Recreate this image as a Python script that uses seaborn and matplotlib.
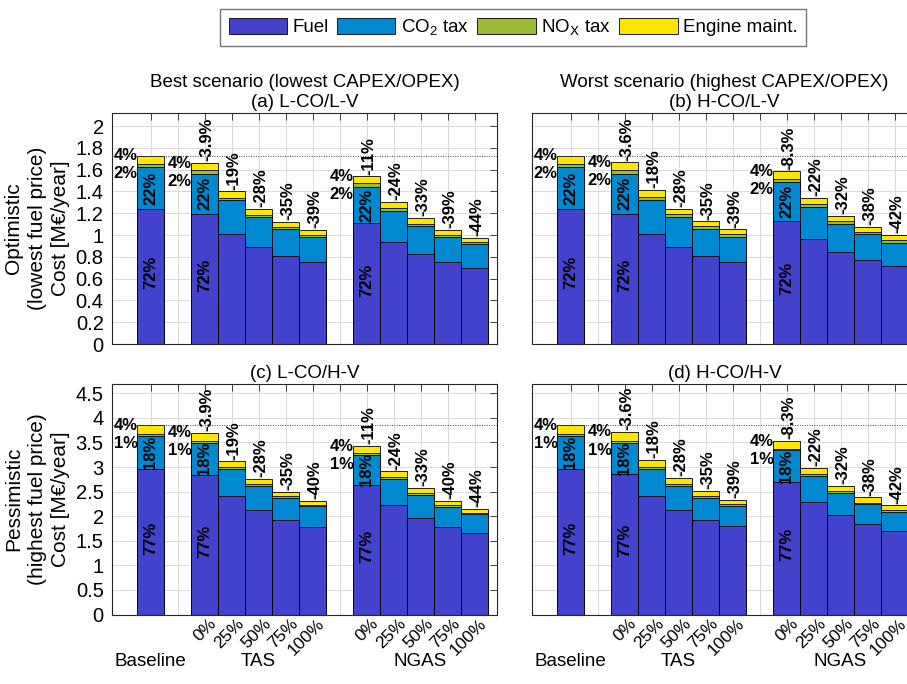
import numpy as np
import pandas as pd
import matplotlib
matplotlib.use("Agg")
import matplotlib.pyplot as plt
import seaborn as sns
from matplotlib.patches import Patch
from matplotlib.transforms import blended_transform_factory, offset_copy, ScaledTranslation

# ---------------- data ----------------
categories = ["Baseline", "gap1", "TAS 0%", "TAS 25%", "TAS 50%", "TAS 75%", "TAS 100%",
              "gap2", "NGAS 0%", "NGAS 25%", "NGAS 50%", "NGAS 75%", "NGAS 100%"]
bars = ["Baseline", "TAS 0%", "TAS 25%", "TAS 50%", "TAS 75%", "TAS 100%",
        "NGAS 0%", "NGAS 25%", "NGAS 50%", "NGAS 75%", "NGAS 100%"]
tick_labels = ["", "", "0%", "25%", "50%", "75%", "100%", "", "0%", "25%", "50%", "75%", "100%"]
group_labels = ["Baseline", "TAS", "NGAS"]
group_pos = [0, 4, 10]

# (a) L-CO/L-V
fuel_a = [1.243, 1.197, 1.009, 0.891, 0.806, 0.752, 1.106, 0.936, 0.824, 0.752, 0.697]
co2_a = [0.377, 0.363, 0.309, 0.270, 0.246, 0.227, 0.339, 0.288, 0.258, 0.227, 0.218]
nox_a = [0.035, 0.033, 0.026, 0.024, 0.021, 0.020, 0.031, 0.027, 0.022, 0.020, 0.020]
maint_a = [0.072, 0.067, 0.056, 0.055, 0.049, 0.046, 0.062, 0.055, 0.051, 0.046, 0.035]
chg_a = ["-3.9%", "-19%", "-28%", "-35%", "-39%", "-11%", "-24%", "-33%", "-39%", "-44%"]
# (b) H-CO/L-V
fuel_b = [1.243, 1.197, 1.012, 0.891, 0.809, 0.752, 1.133, 0.961, 0.845, 0.767, 0.715]
co2_b = [0.377, 0.363, 0.312, 0.276, 0.249, 0.233, 0.352, 0.297, 0.258, 0.239, 0.215]
nox_b = [0.035, 0.033, 0.026, 0.024, 0.021, 0.020, 0.032, 0.027, 0.023, 0.021, 0.020]
maint_b = [0.072, 0.073, 0.062, 0.052, 0.046, 0.047, 0.067, 0.058, 0.049, 0.045, 0.050]
chg_b = ["-3.6%", "-18%", "-28%", "-35%", "-39%", "-8.3%", "-22%", "-32%", "-38%", "-42%"]
# (c) L-CO/H-V
fuel_c = [2.958, 2.841, 2.413, 2.122, 1.919, 1.782, 2.638, 2.238, 1.966, 1.782, 1.667]
co2_c = [0.678, 0.656, 0.556, 0.495, 0.461, 0.428, 0.611, 0.522, 0.468, 0.414, 0.381]
nox_c = [0.040, 0.039, 0.033, 0.031, 0.027, 0.026, 0.036, 0.031, 0.028, 0.026, 0.025]
maint_c = [0.171, 0.167, 0.114, 0.109, 0.088, 0.079, 0.141, 0.120, 0.105, 0.093, 0.078]
chg_c = ["-3.9%", "-19%", "-28%", "-35%", "-40%", "-11%", "-24%", "-33%", "-40%", "-44%"]
# (d) H-CO/H-V
fuel_d = [2.958, 2.855, 2.413, 2.122, 1.919, 1.796, 2.706, 2.285, 2.021, 1.837, 1.701]
co2_d = [0.678, 0.643, 0.556, 0.495, 0.461, 0.420, 0.632, 0.536, 0.461, 0.413, 0.393]
nox_d = [0.040, 0.039, 0.033, 0.031, 0.027, 0.026, 0.037, 0.032, 0.029, 0.026, 0.025]
maint_d = [0.171, 0.177, 0.145, 0.124, 0.099, 0.094, 0.154, 0.131, 0.108, 0.105, 0.099]
chg_d = ["-3.6%", "-18%", "-28%", "-35%", "-39%", "-8.3%", "-22%", "-32%", "-38%", "-42%"]

shares_top = ["72%", "22%", "2%", "4%"]
shares_bot = ["77%", "18%", "1%", "4%"]
share_bars = ["Baseline", "TAS 0%", "NGAS 0%"]

panel_titles = ["Best scenario (lowest CAPEX/OPEX)\n(a) L-CO/L-V",
                "Worst scenario (highest CAPEX/OPEX)\n(b) H-CO/L-V",
                "(c) L-CO/H-V", "(d) H-CO/H-V"]
row_labels = ["Optimistic\n(lowest fuel price)\nCost [M\u20ac/year]",
              "Pessimistic\n(highest fuel price)\nCost [M\u20ac/year]"]
series_names = ["Fuel", "CO$_2$ tax", "NO$_\\mathrm{X}$ tax", "Engine maint."]
colors = ["#4242cc", "#0088d0", "#9bbb34", "#ffe600"]

# ---------------- style ----------------
sns.set_theme(style="white")
plt.rcParams["font.family"] = ["Liberation Sans", "DejaVu Sans"]
plt.rcParams["mathtext.default"] = "regular"
plt.rcParams["text.color"] = "black"
plt.rcParams["axes.labelcolor"] = "black"
plt.rcParams["xtick.color"] = "black"
plt.rcParams["ytick.color"] = "black"
plt.rcParams["axes.titlecolor"] = "black"

fig = plt.figure(figsize=(9.07, 6.84), dpi=100)
W, H = 907.0, 684.0
def axpos(l, t, r, b):
    return [l / W, 1 - b / H, (r - l) / W, (b - t) / H]

positions = [axpos(112, 113, 497, 344), axpos(532, 113, 917, 344),
             axpos(112, 383.5, 497, 614.5), axpos(532, 383.5, 917, 614.5)]
panels = [(fuel_a, co2_a, nox_a, maint_a, chg_a, 2.12),
          (fuel_b, co2_b, nox_b, maint_b, chg_b, 2.12),
          (fuel_c, co2_c, nox_c, maint_c, chg_c, 4.70),
          (fuel_d, co2_d, nox_d, maint_d, chg_d, 4.70)]

for i, (pos, (fuel, co2, nox, maint, chg, ytop)) in enumerate(zip(positions, panels)):
    ax = fig.add_axes(pos)
    df = pd.DataFrame({"cat": bars, "fuel": fuel, "co2": co2, "nox": nox, "maint": maint})
    df["l1"] = df["fuel"]
    df["l2"] = df["l1"] + df["co2"]
    df["l3"] = df["l2"] + df["nox"]
    df["l4"] = df["l3"] + df["maint"]
    for col, c in zip(["l4", "l3", "l2", "l1"], colors[::-1]):
        sns.barplot(data=df, x="cat", y=col, order=categories, color=c, width=1.0,
                    edgecolor="black", linewidth=0.6, saturation=1, ax=ax, zorder=2)
    ax.set_xlim(-1.43, 12.83)
    ax.set_ylim(0, ytop)
    ax.set_xlabel("")
    ax.set_ylabel("")
    ax.set_xticks(range(len(categories)))
    ax.grid(True, color="#dcdcdc", linewidth=0.8, zorder=0)
    ax.set_axisbelow(True)
    ax.tick_params(direction="in", top=True, right=True, length=5, width=0.6,
                   color="#262626", labelsize=14.5, pad=6)
    base_total = df["l4"].iloc[0]
    ax.axhline(base_total, color="#444444", linestyle=(0, (1, 1.5)), linewidth=0.7, zorder=3)

    shares = shares_top if i < 2 else shares_bot
    xpos = {c: k for k, c in enumerate(categories)}
    # change labels
    for k, (cat, lab) in enumerate(zip(bars[1:], chg)):
        r = df.iloc[k + 1]
        ax.text(xpos[cat] + 0.08, r["l4"] + ytop * 0.008, lab, rotation=90, ha="center",
                va="bottom", fontsize=12, fontweight="bold", zorder=4)
    # share labels
    for cat in share_bars:
        r = df[df["cat"] == cat].iloc[0]
        x = xpos[cat]
        ax.text(x, r["l1"] / 2 + ytop * 0.015, shares[0], rotation=90, ha="center", va="center",
                fontsize=12, fontweight="bold", zorder=4)
        ax.text(x, (r["l1"] + r["l2"]) / 2, shares[1], rotation=90, ha="center", va="center",
                fontsize=12, fontweight="bold", zorder=4)
        ax.text(x - 0.48, r["l4"], shares[3], ha="right", va="center",
                fontsize=12, fontweight="bold", zorder=4)
        tr = offset_copy(ax.transData, fig=fig, x=0, y=-13, units="points")
        ax.text(x - 0.48, r["l4"], shares[2], ha="right", va="center", transform=tr,
                fontsize=12, fontweight="bold", zorder=4)

    if i % 2 == 0:
        ax.set_yticks(np.arange(0, ytop + 0.001, 0.2 if i == 0 else 0.5))
        ax.set_yticklabels([f"{v:g}" for v in ax.get_yticks()])
        ax.set_ylabel(row_labels[i // 2], fontsize=15, linespacing=1.3, labelpad=4)
    else:
        ax.set_yticks(np.arange(0, ytop + 0.001, 0.2 if i == 1 else 0.5))
        ax.set_yticklabels([])
    if i >= 2:
        ax.set_xticklabels(tick_labels, rotation=45, ha="right", va="center",
                           rotation_mode="anchor", fontsize=12.5)
        ax.tick_params(axis="x", pad=5)
        shift = ScaledTranslation(7 / 72, 0, fig.dpi_scale_trans)
        for lab in ax.get_xticklabels():
            lab.set_transform(lab.get_transform() + shift)
        btr = blended_transform_factory(ax.transData, ax.transAxes)
        for g, gx in zip(group_labels, group_pos):
            ax.text(gx, -0.205, g, transform=btr, ha="center", va="center", fontsize=13.5)
    else:
        ax.set_xticklabels([])
    ax.set_title(panel_titles[i], fontsize=13.5, linespacing=1.25, pad=4)
    for s in ax.spines.values():
        s.set_visible(True)
        s.set_color("#262626")
        s.set_linewidth(0.8)

handles = [Patch(facecolor=c, edgecolor="black", linewidth=0.6) for c in colors]
leg = fig.legend(handles, series_names, loc="center", bbox_to_anchor=(0.566, 0.96), ncol=4,
                 fontsize=13.5, frameon=True, fancybox=False, edgecolor="#555555",
                 handlelength=3.1, handleheight=1.0, handletextpad=0.3, columnspacing=0.45,
                 borderpad=0.45)
leg.get_frame().set_linewidth(1.0)

fig.savefig("out.png", dpi=100)
